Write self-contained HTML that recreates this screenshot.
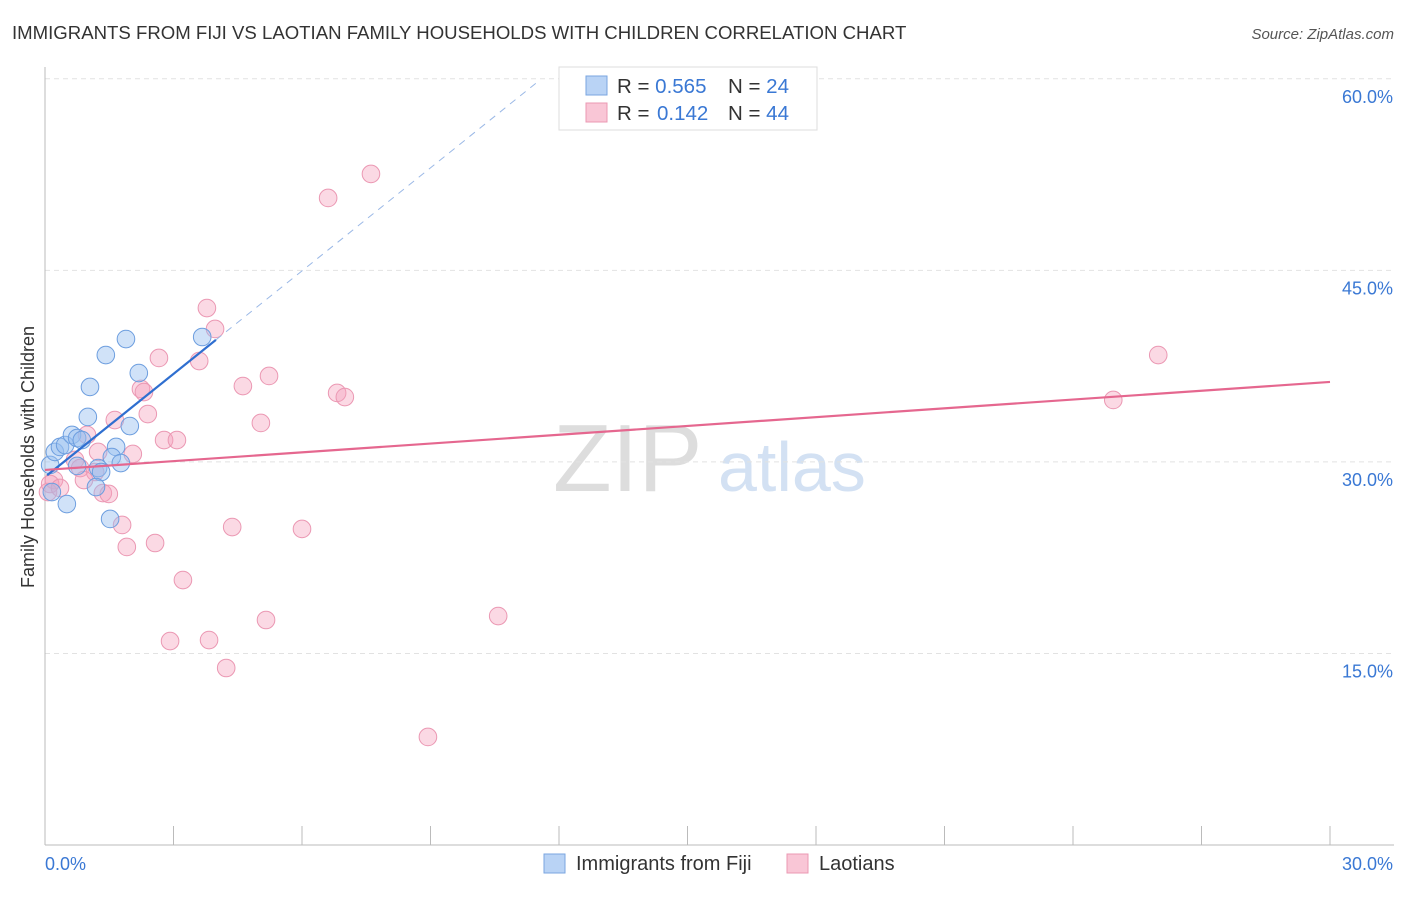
<!DOCTYPE html>
<html><head><meta charset="utf-8"><style>
body{margin:0;background:#fff;font-family:"Liberation Sans",sans-serif;}
svg text{font-family:"Liberation Sans",sans-serif;}
</style></head><body>
<svg id="chart" width="1406" height="892" viewBox="0 0 1406 892">
<text x="12" y="39" font-size="18.6" fill="#333">IMMIGRANTS FROM FIJI VS LAOTIAN FAMILY HOUSEHOLDS WITH CHILDREN CORRELATION CHART</text>
<text x="1394" y="39" font-size="15" fill="#555" font-style="italic" text-anchor="end">Source: ZipAtlas.com</text>
<g>
<text x="553" y="491" font-size="96" font-family="Liberation Serif" fill="#ddd">ZIP</text>
<text x="718" y="491" font-size="70" fill="#d3e1f3">atlas</text>
</g>
<g id="grid"></g>
<g id="axes"></g>
<g id="marks"></g>
<text transform="translate(34,457) rotate(-90)" font-size="18" fill="#333" text-anchor="middle">Family Households with Children</text>
<g>
<rect x="559" y="67" width="258" height="63" fill="#fff" stroke="#ddd"/>
<rect x="586" y="76" width="21" height="19" fill="#b9d3f5" stroke="#7aa6e0"/>
<rect x="586" y="103" width="21" height="19" fill="#f9c6d6" stroke="#eb98b3"/>
<text x="617" y="93" font-size="20.5" fill="#333">R = <tspan fill="#3a78d4">0.565</tspan><tspan x="728">N = </tspan><tspan fill="#3a78d4">24</tspan></text>
<text x="617" y="120" font-size="20.5" fill="#333">R = <tspan fill="#3a78d4" x="657">0.142</tspan><tspan x="728">N = </tspan><tspan fill="#3a78d4">44</tspan></text>
</g>
<g>
<rect x="544" y="854" width="21" height="19" fill="#b9d3f5" stroke="#7aa6e0"/>
<text x="576" y="870" font-size="20" fill="#333">Immigrants from Fiji</text>
<rect x="787" y="854" width="21" height="19" fill="#f9c6d6" stroke="#eb98b3"/>
<text x="819" y="870" font-size="20" fill="#333">Laotians</text>
</g>
</svg>
<script>
const yTicks=[15,30,45,60];
const yTickLabels=["15.0%","30.0%","45.0%","60.0%"];
const xEndLabels=["0.0%","30.0%"];
const fijiX=[0.12,0.23,0.35,0.47,0.63,0.75,0.86,1.00,1.05,1.42,1.89,2.19,1.98,1.66,1.56,1.77,1.24,1.31,1.19,1.52,0.51,0.16,3.67,0.75];
const fijiY=[29.76,30.78,31.17,31.32,32.11,31.87,31.71,33.52,35.87,38.37,39.62,36.96,32.81,31.17,30.38,29.91,29.52,29.21,28.03,25.53,26.70,27.64,39.78,29.68];
const laoX=[7.61,6.61,3.78,3.97,2.66,3.60,2.24,2.31,4.62,5.23,6.82,7.00,2.40,1.63,5.04,2.78,3.08,0.98,1.24,2.05,0.70,0.82,1.17,0.21,0.07,0.12,1.35,1.49,1.80,4.37,6.00,1.91,2.57,3.22,5.16,3.83,2.92,4.23,8.94,10.58,25.99,24.94,0.91,0.35];
const laoY=[52.55,50.67,42.05,40.41,38.14,37.90,35.71,35.47,35.94,36.73,35.40,35.08,33.75,33.28,33.05,31.71,31.71,32.11,30.78,30.62,30.15,29.52,29.21,28.58,27.64,28.27,27.56,27.49,25.06,24.90,24.75,23.34,23.65,20.75,17.62,16.05,15.97,13.86,8.46,17.93,38.37,34.85,28.58,27.96];
const fijiTrend=[28.82,2.69];
const laoTrend=[29.37,0.2297];
const sx=v=>45+v*(1285/30);
const sy=v=>845-v*12.77;
const NS="http://www.w3.org/2000/svg";
function mk(t,a,p){const e=document.createElementNS(NS,t);for(const k in a)e.setAttribute(k,a[k]);p.appendChild(e);return e;}
const grid=document.getElementById('grid'),axes=document.getElementById('axes'),marks=document.getElementById('marks');
yTicks.forEach((v,i)=>{
 const l=mk('line',{x1:45,x2:1394,y1:sy(v),y2:sy(v),stroke:'#e2e2e2','stroke-dasharray':'5,4'},grid);
 
 
 const t=mk('text',{x:1393,y:sy(v)+24,'font-size':18,fill:'#3a78d4','text-anchor':'end'},axes);
 t.textContent=yTickLabels[i];
 
 
});
const a1=mk('line',{x1:45,x2:45,y1:67,y2:845,stroke:'#bbb'},axes);


const a2=mk('line',{x1:45,x2:1394,y1:845,y2:845,stroke:'#bbb'},axes);


for(let k=0;k<=10;k++){
 const tk=mk('line',{x1:sx(k*3),x2:sx(k*3),y1:826,y2:845,stroke:'#bbb'},axes);
 
 
}
const xl0=mk('text',{x:45,y:870,'font-size':18,fill:'#3a78d4'},axes);xl0.textContent=xEndLabels[0];


const xl1=mk('text',{x:1393,y:870,'font-size':18,fill:'#3a78d4','text-anchor':'end'},axes);xl1.textContent=xEndLabels[1];


laoX.forEach((x,i)=>{
 const c=mk('circle',{cx:sx(x),cy:sy(laoY[i]),r:8.8,fill:'rgba(245,160,188,0.4)',stroke:'#eb98b3','stroke-width':1},marks);
 
 
});
fijiX.forEach((x,i)=>{
 const c=mk('circle',{cx:sx(x),cy:sy(fijiY[i]),r:8.8,fill:'rgba(150,190,240,0.45)',stroke:'#6d9edf','stroke-width':1},marks);
 
 
});
const fEnd=Math.max(...fijiX)+0.32;
const ld=mk('line',{x1:sx(fEnd),y1:sy(fijiTrend[0]+fijiTrend[1]*fEnd),x2:sx(11.56),y2:sy(fijiTrend[0]+fijiTrend[1]*11.56),stroke:'#9ab8e6','stroke-width':1,'stroke-dasharray':'7,6'},marks);


const lf=mk('line',{x1:sx(0.05),y1:sy(fijiTrend[0]+fijiTrend[1]*0.05),x2:sx(fEnd),y2:sy(fijiTrend[0]+fijiTrend[1]*fEnd),stroke:'#2f6fd0','stroke-width':2.2},marks);


const lp=mk('line',{x1:sx(0),y1:sy(laoTrend[0]),x2:sx(30),y2:sy(laoTrend[0]+laoTrend[1]*30),stroke:'#e5678f','stroke-width':2.2},marks);


</script>
</body></html>
